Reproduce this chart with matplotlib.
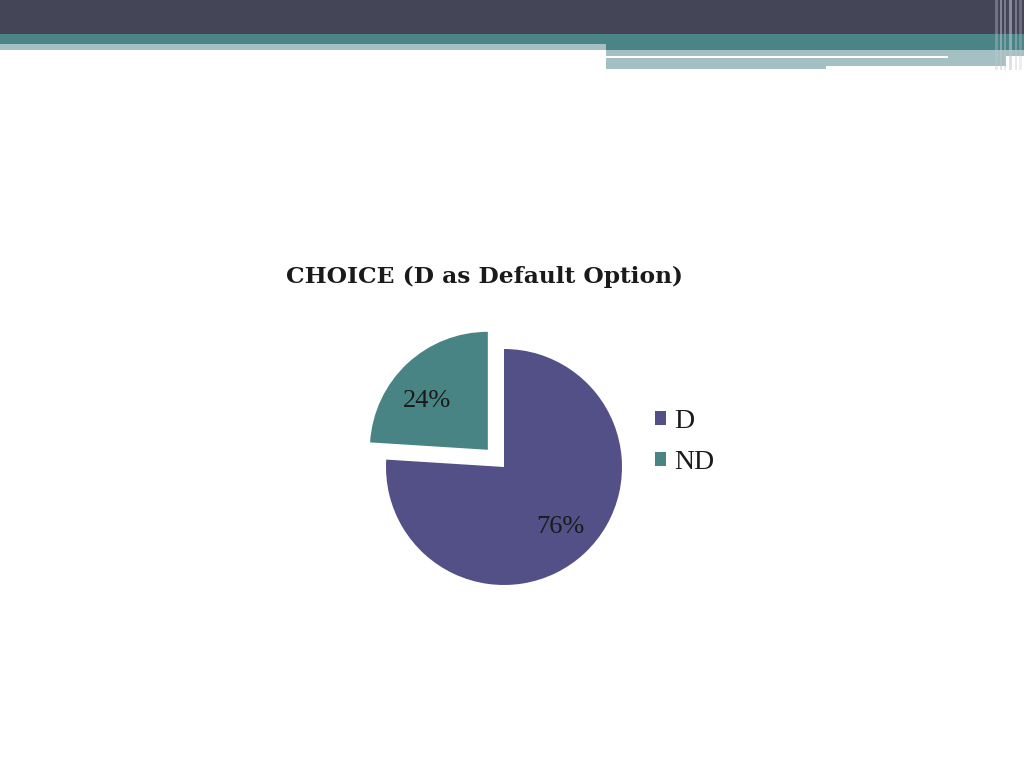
import numpy as np
import matplotlib.pyplot as plt
from matplotlib.patches import Rectangle

labels = ['D', 'ND']
shares = [76, 24]
colors = ['#535088', '#488483']
title = 'CHOICE (D as Default Option)'

W, H = 1024, 768
fig = plt.figure(figsize=(W / 100, H / 100), dpi=100)
fig.patch.set_facecolor('white')

# slide header bands, in pixel coordinates (y down)
bg = fig.add_axes([0, 0, 1, 1])
bg.set_xlim(0, W)
bg.set_ylim(H, 0)
bg.axis('off')
bands = [
    (0, 0, 1024, 34, '#454558'),
    (0, 34, 1024, 10, '#4a8486'),
    (0, 44, 606, 6, '#a5c0c3'),
    (606, 44, 418, 6, '#4a8486'),
    (606, 50, 418, 6, '#a5c0c3'),
    (606, 56, 342, 2, '#ffffff'),
    (948, 56, 58, 10, '#a5c0c3'),
    (606, 58, 220, 11, '#a5c0c3'),
    (826, 58, 122, 8, '#a5c0c3'),
]
for x, y, w, h, c in bands:
    bg.add_patch(Rectangle((x, y), w, h, color=c, lw=0))
for x, w, a in [(995, 3, 0.35), (1000, 2, 0.5), (1004, 2, 0.4), (1009, 3, 0.55), (1015, 2, 0.4), (1019, 3, 0.3)]:
    bg.add_patch(Rectangle((x, 0), w, 70, color='#c4c8d0', alpha=a, lw=0))

# pie centred at (504, 467) px, radius 118 px
L = 1.5
side = 2 * L * 118
ax = fig.add_axes([(504 - side / 2) / W, (H - 467 - side / 2) / H, side / W, side / H])
wedges, texts, autotexts = ax.pie(
    shares, colors=colors, startangle=90, counterclock=False,
    explode=[0, 0.2], autopct='%d%%', pctdistance=0.7,
    wedgeprops=dict(linewidth=0),
    textprops=dict(family='Liberation Serif', fontsize=19, color='#1a1a1a'))
# nudge the ND label a little towards the left edge, as in the original
w = wedges[1]
cx, cy = w.center
a = np.deg2rad(141)
autotexts[1].set_position((cx + 0.66 * np.cos(a), cy + 0.66 * np.sin(a)))
ax.set_xlim(-L, L)
ax.set_ylim(-L, L)
ax.set_aspect('equal')
ax.axis('off')

fig.text(485 / W, 1 - 277 / H, title, ha='center', va='center',
         family='DejaVu Serif', fontweight='bold', fontsize=16.8, color='#1a1a1a')

fig.legend(wedges, labels, loc='center left', bbox_to_anchor=(630 / W, 1 - 442 / H),
           frameon=False, prop=dict(family='Liberation Serif', size=20),
           handlelength=0.4, handleheight=0.4, handletextpad=0.3, labelspacing=0.55,
           labelcolor='#1a1a1a')

plt.savefig('out.png', dpi=100)
